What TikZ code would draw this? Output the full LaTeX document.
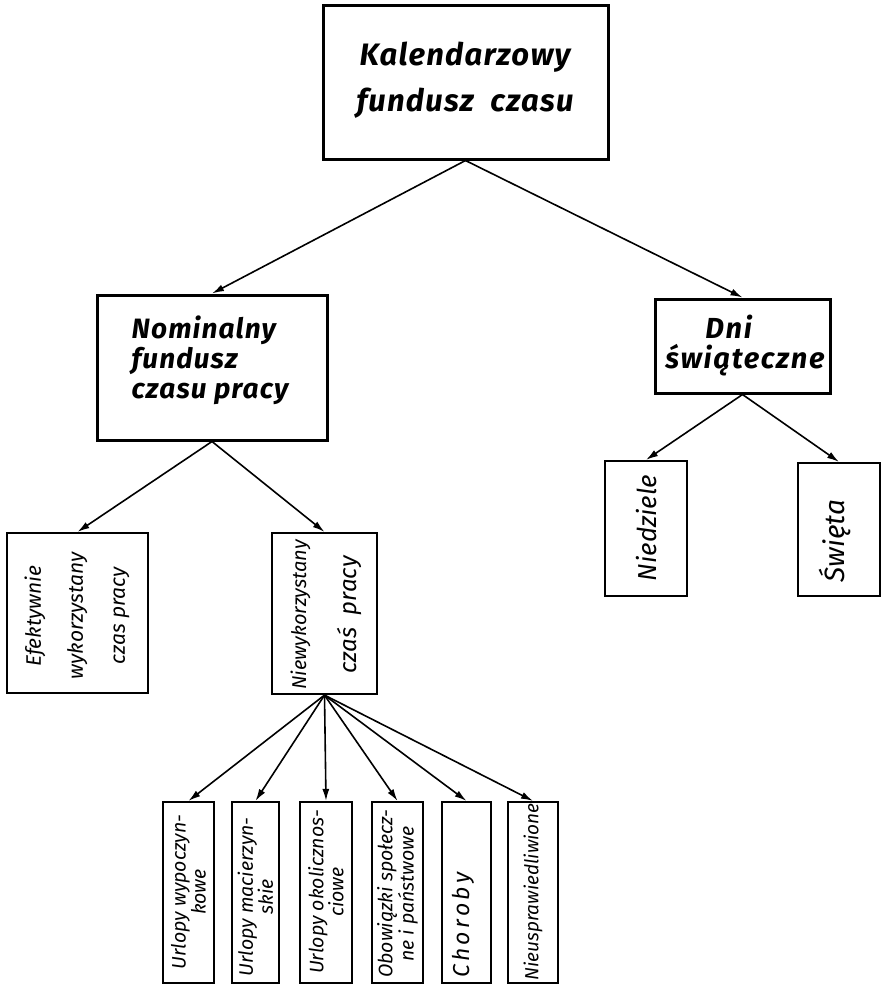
\documentclass[tikz,border=0pt]{standalone}
\usepackage{fontspec}
\setmainfont{Fira Sans}
\usetikzlibrary{arrows.meta}
\begin{document}
\begin{tikzpicture}[x=1pt,y=-1pt,
  bigbox/.style={draw, line width=3pt, inner sep=0pt},
  smallbox/.style={draw, line width=2.2pt, inner sep=0pt},
  conn/.style={line width=1.6pt, -{Latex[length=12pt,width=7pt]}},
  lbl/.style={inner sep=0pt, align=center},
]
\useasboundingbox (0,0) rectangle (882,986);
% boxes
\node[bigbox, minimum width=285pt, minimum height=154pt] (top) at (465.5,82) {};
\node[bigbox, minimum width=230pt, minimum height=145pt] (nom) at (212,367.5) {};
\node[bigbox, minimum width=175pt, minimum height=94pt] (dni) at (742.5,346) {};
\node[smallbox, minimum width=141pt, minimum height=160pt] (efe) at (77.5,613) {};
\node[smallbox, minimum width=105pt, minimum height=161pt] (niew) at (324.5,613.5) {};
\node[smallbox, minimum width=82pt, minimum height=135pt] (nied) at (646,528.5) {};
\node[smallbox, minimum width=82pt, minimum height=133pt] (swie) at (839,529.5) {};
\node[smallbox, minimum width=51pt, minimum height=181pt] (b1) at (188.5,892.5) {};
\node[smallbox, minimum width=47pt, minimum height=181pt] (b2) at (255.5,892.5) {};
\node[smallbox, minimum width=52pt, minimum height=181pt] (b3) at (326,892.5) {};
\node[smallbox, minimum width=51pt, minimum height=181pt] (b4) at (397.5,892.5) {};
\node[smallbox, minimum width=49pt, minimum height=181pt] (b5) at (466.5,892.5) {};
\node[smallbox, minimum width=50pt, minimum height=181pt] (b6) at (533,892.5) {};
% labels
\node[lbl, font=\fontsize{31}{46}\selectfont\bfseries\itshape\addfontfeature{LetterSpace=4}] (ttop) at (465,80) {Kalendarzowy\\fundusz\ \ czasu};
\node[lbl, align=left, font=\fontsize{28}{30}\selectfont\bfseries\itshape\addfontfeature{LetterSpace=4}] (tnom) at (210,360) {Nominalny\\fundusz\\czasu pracy};
\node[lbl, align=left, font=\fontsize{29}{30}\selectfont\bfseries\itshape\addfontfeature{LetterSpace=6}] (tdni) at (745,346) {\hspace*{40pt}Dni\\świąteczne};
\node[lbl, rotate=90, font=\fontsize{21}{42}\selectfont\itshape] (tefe) at (77,616) {Efektywnie\\wykorzystany\\czas pracy};
\node[lbl, rotate=90, font=\fontsize{20}{50}\selectfont\itshape] (tniew) at (326,615) {Niewykorzystany\\{\fontsize{24}{50}\selectfont czaś\ \ pracy}};
\node[lbl, rotate=90, font=\fontsize{26}{30}\selectfont\itshape] (tnied) at (647,528) {Niedziele};
\node[lbl, rotate=90, font=\fontsize{28}{30}\selectfont\itshape] (tswie) at (835,541) {Święta};
\node[lbl, rotate=90, font=\fontsize{19.5}{20}\selectfont\itshape] (tb1) at (188.5,892) {Urlopy wypoczyn-\\kowe};
\node[lbl, rotate=90, font=\fontsize{19.5}{20}\selectfont\itshape] (tb2) at (255.5,897) {Urlopy macierzyn-\\skie};
\node[lbl, rotate=90, font=\fontsize{19.5}{20}\selectfont\itshape] (tb3) at (326,892) {Urlopy okolicznos-\\ciowe};
\node[lbl, rotate=90, font=\fontsize{19.5}{20}\selectfont\itshape] (tb4) at (397.5,894) {Obowiązki społecz-\\ne i państwowe};
\node[lbl, rotate=90, font=\fontsize{23}{24}\selectfont\itshape\addfontfeature{LetterSpace=15}] (tb5) at (463,925) {Choroby};
\node[lbl, rotate=90, font=\fontsize{19}{20}\selectfont\itshape] (tb6) at (533,892) {Nieusprawiedliwione};
% connectors
\draw[conn] (top.south) -- (nom.north);
\draw[conn] (top.south) -- (dni.north);
\draw[conn] (nom.south) -- (efe.north);
\draw[conn] (nom.south) -- (niew.north);
\draw[conn] (dni.south) -- (nied.north);
\draw[conn] (dni.south) -- (swie.north);
\foreach \b in {b1,b2,b3,b4,b5,b6} \draw[conn] (niew.south) -- (\b.north);
\end{tikzpicture}
\end{document}
